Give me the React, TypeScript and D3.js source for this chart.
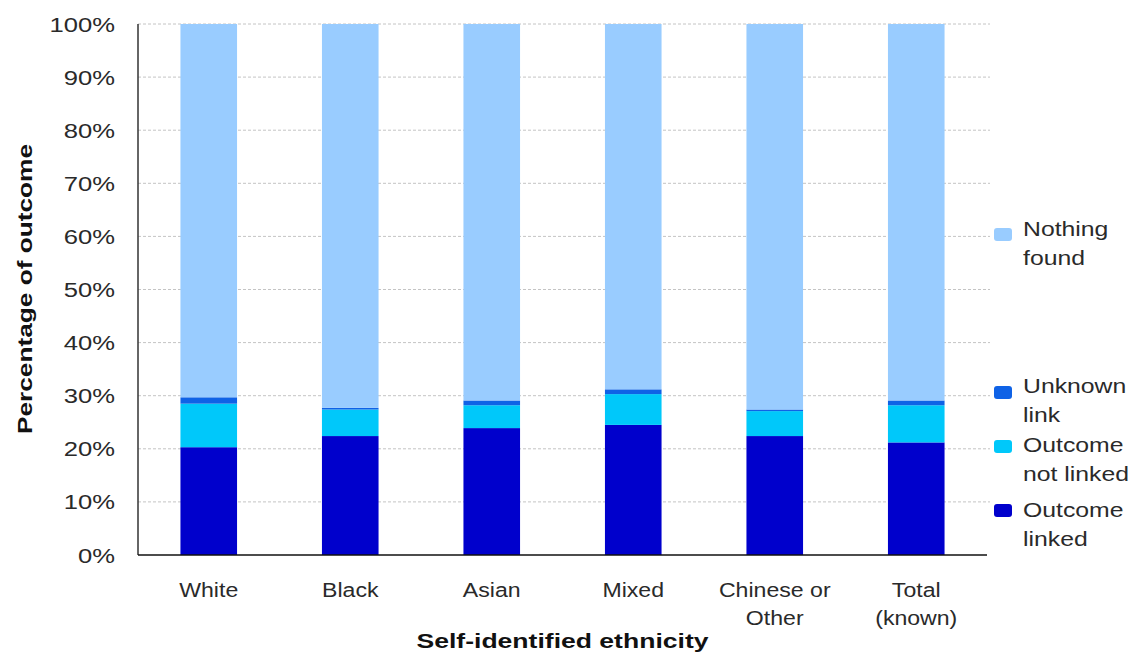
import React from "react";
import * as d3 from "d3";

const categories: string[][] = [
  ["White"],
  ["Black"],
  ["Asian"],
  ["Mixed"],
  ["Chinese or", "Other"],
  ["Total", "(known)"],
];
const outcomeLinked = [20.3, 22.4, 23.9, 24.5, 22.4, 21.2];
const outcomeNotLinked = [8.2, 5.0, 4.3, 5.8, 4.7, 7.0];
const unknownLink = [1.2, 0.3, 0.9, 0.9, 0.3, 0.9];
const nothingFound = [70.3, 72.3, 70.9, 68.8, 72.6, 70.9];

const seriesNames = ["Outcome linked", "Outcome not linked", "Unknown link", "Nothing found"];
const seriesColors = ["#0000CC", "#00C8FA", "#0F62E6", "#99CCFF"];
const legendLabels: string[][] = [
  ["Outcome", "linked"],
  ["Outcome", "not linked"],
  ["Unknown", "link"],
  ["Nothing", "found"],
];
const yTicks = [0, 10, 20, 30, 40, 50, 60, 70, 80, 90, 100];

const W = 1138;
const H = 657;
const M = { left: 138, right: 987, top: 24, bottom: 555 };
const FONT = "'Liberation Sans', Arial, Helvetica, sans-serif";
const TXT = "#2a2a2a";

function SText({ x, y, sx, children, anchor = "start", size = 21, weight = "normal" }: any) {
  return (
    <text
      transform={`translate(${x},${y}) scale(${sx},1)`}
      textAnchor={anchor}
      fontSize={size}
      fontWeight={weight}
      fontFamily={FONT}
      fill={TXT}
    >
      {children}
    </text>
  );
}

export default function App() {
  const keys = categories.map((c) => c.join(" "));
  const x = d3
    .scaleBand<string>()
    .domain(keys)
    .range([M.left, M.right])
    .paddingInner(0.6)
    .paddingOuter(0.3);
  const y = d3.scaleLinear().domain([0, 100]).range([M.bottom, M.top]);

  const rows = keys.map((k, i) => ({
    key: k,
    s0: outcomeLinked[i],
    s1: outcomeNotLinked[i],
    s2: unknownLink[i],
    s3: nothingFound[i],
  }));
  const stack = d3.stack<any>().keys(["s0", "s1", "s2", "s3"]);
  const layers = stack(rows);

  // legend layout (order top to bottom on screen)
  const legendLayout = [
    { idx: 3, swY: 228, textY: 236 },
    { idx: 2, swY: 386, textY: 393 },
    { idx: 1, swY: 440, textY: 452 },
    { idx: 0, swY: 504, textY: 517 },
  ];

  return (
    <svg width={W} height={H} style={{ position: "absolute", left: 0, top: 0, background: "#fff" }}>
      <rect x={0} y={0} width={W} height={H} fill="#fff" />
      {/* gridlines */}
      {yTicks
        .filter((t) => t > 0)
        .map((t) => (
          <line
            key={t}
            x1={M.left}
            x2={990}
            y1={y(t)}
            y2={y(t)}
            stroke="#c4c4c4"
            strokeWidth={1}
            strokeDasharray="3,2"
          />
        ))}
      {/* bars */}
      {layers.map((layer, li) => (
        <g key={li} fill={seriesColors[li]}>
          {layer.map((d: any, i: number) => (
            <rect
              key={i}
              x={x(keys[i])}
              width={x.bandwidth()}
              y={y(d[1])}
              height={Math.max(0, y(d[0]) - y(d[1]))}
            />
          ))}
        </g>
      ))}
      {/* axes */}
      <line x1={M.left} x2={M.left} y1={M.top} y2={M.bottom} stroke="#333" strokeWidth={1.5} />
      <line x1={M.left} x2={M.right} y1={M.bottom} y2={M.bottom} stroke="#111" strokeWidth={1.5} />
      {/* y tick labels */}
      {yTicks.map((t) => (
        <SText key={t} x={115} y={y(t) + 7.5} sx={1.22} anchor="end">
          {t}%
        </SText>
      ))}
      {/* x labels */}
      {categories.map((lines, i) => (
        <g key={i}>
          {lines.map((ln, j) => (
            <SText key={j} x={x(keys[i])! + x.bandwidth() / 2} y={597 + j * 28} sx={1.1} anchor="middle">
              {ln}
            </SText>
          ))}
        </g>
      ))}
      {/* axis titles */}
      <text
        x={(M.left + M.right) / 2}
        y={648}
        textAnchor="middle"
        fontSize={21}
        fontWeight="bold"
        fontFamily={FONT}
        fill="#111"
        textLength={292}
        lengthAdjust="spacingAndGlyphs"
      >
        Self-identified  ethnicity
      </text>
      <text
        transform={`translate(32,289) rotate(-90)`}
        textAnchor="middle"
        fontSize={21}
        fontWeight="bold"
        fontFamily={FONT}
        fill="#111"
        textLength={290}
        lengthAdjust="spacingAndGlyphs"
      >
        Percentage of outcome
      </text>
      {/* legend */}
      {legendLayout.map((l) => (
        <g key={l.idx}>
          <rect x={994} y={l.swY} width={18} height={13} rx={3} fill={seriesColors[l.idx]} />
          {legendLabels[l.idx].map((ln, j) => (
            <SText key={j} x={1023} y={l.textY + j * 29} sx={1.18}>
              {ln}
            </SText>
          ))}
        </g>
      ))}
    </svg>
  );
}
